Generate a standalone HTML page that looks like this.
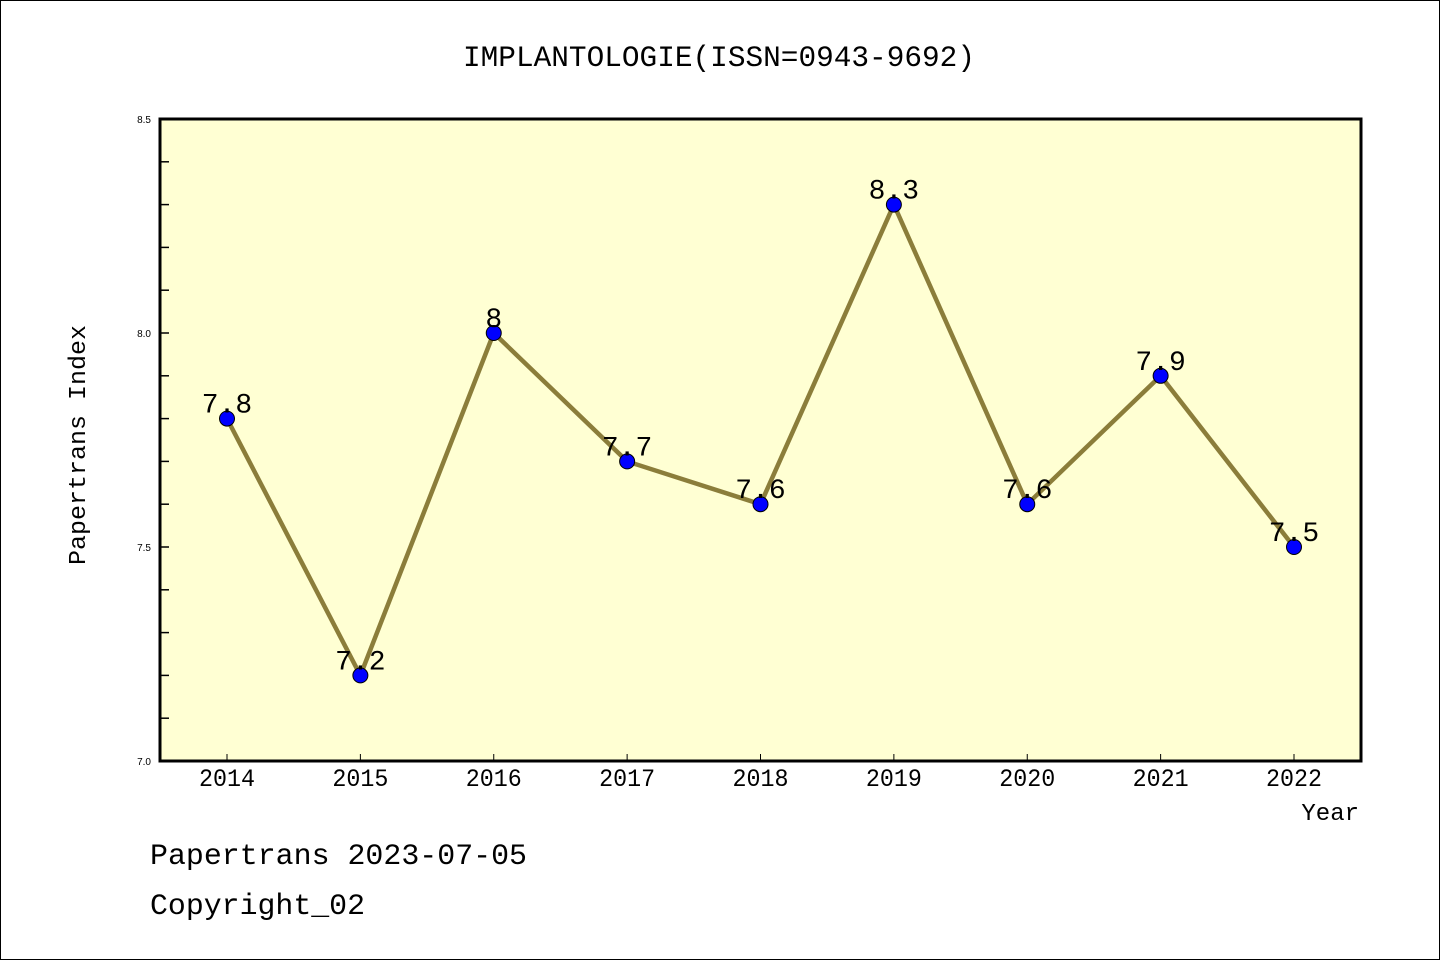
<!DOCTYPE html>
<html><head><meta charset="utf-8"><style>
html,body{margin:0;padding:0;background:#fff;}
svg{display:block;font-family:"Liberation Mono","WenQuanYi Zen Hei",monospace;}
</style></head><body>
<svg id="chart" width="1440" height="960">
<rect x="0.5" y="0.5" width="1439" height="959" fill="#fff" stroke="#000"/>
<text x="719" y="66" text-anchor="middle" font-size="30" textLength="512" lengthAdjust="spacingAndGlyphs">IMPLANTOLOGIE(ISSN=0943-9692)</text>
<rect x="160" y="119" width="1201" height="642" fill="#ffffd3"/>
<g id="ticks"></g>
<g id="series"></g>
<rect x="160" y="119" width="1201" height="642" fill="none" stroke="#000" stroke-width="3"/>
<text x="85" y="445" text-anchor="middle" font-size="24" textLength="240" lengthAdjust="spacingAndGlyphs" transform="rotate(-90 85 445)">Papertrans Index</text>
<text x="1359" y="820" text-anchor="end" font-size="24">Year</text>
<text x="150" y="864" font-size="30" textLength="377" lengthAdjust="spacingAndGlyphs">Papertrans 2023-07-05</text>
<text x="150" y="914" font-size="30" textLength="215" lengthAdjust="spacingAndGlyphs">Copyright_02</text>
</svg>
<script>
const years=[2014,2015,2016,2017,2018,2019,2020,2021,2022];
const values=[7.8,7.2,8,7.7,7.6,8.3,7.6,7.9,7.5];
const yLabels=["7.0","7.5","8.0","8.5"];
const NS="http://www.w3.org/2000/svg";
function xs(i){return 227+i*(1294-227)/(years.length-1);}
function ys(v){return 761-(v-7.0)*428;}
function mk(t,a,p){const e=document.createElementNS(NS,t);for(const k in a)e.setAttribute(k,a[k]);p.appendChild(e);return e;}
const tg=document.getElementById('ticks'),sg=document.getElementById('series');
for(let k=1;k<15;k++){const y=ys(7+k*0.1);
const t=mk('line',{x1:160,x2:169,y1:y,y2:y,stroke:'#000','stroke-width':1.5},tg);

}
yLabels.forEach(l=>{const t=mk('text',{x:151,y:ys(+l)+4,'text-anchor':'end','font-size':10,'font-family':'Liberation Sans,sans-serif'},tg);t.textContent=l;

});
years.forEach((yr,i)=>{const x=xs(i);
const t=mk('line',{x1:x,x2:x,y1:754,y2:761,stroke:'#000','stroke-width':1},tg);


const l=mk('text',{x:x,y:786,'text-anchor':'middle','font-size':25,textLength:56,lengthAdjust:'spacingAndGlyphs'},tg);l.textContent=yr;

});
const line=mk('polyline',{points:values.map((v,i)=>xs(i)+','+ys(v)).join(' '),fill:'none',stroke:'#8b7d3a','stroke-width':4.5},sg);


values.forEach((v,i)=>{const c=mk('circle',{cx:xs(i),cy:ys(v),r:7.5,fill:'#0000ff',stroke:'#000','stroke-width':1},sg);


const t=mk('text',{x:xs(i),y:ys(v)-6,'text-anchor':'middle','font-size':28},sg);t.textContent=String(v);

});
</script>
</body></html>
